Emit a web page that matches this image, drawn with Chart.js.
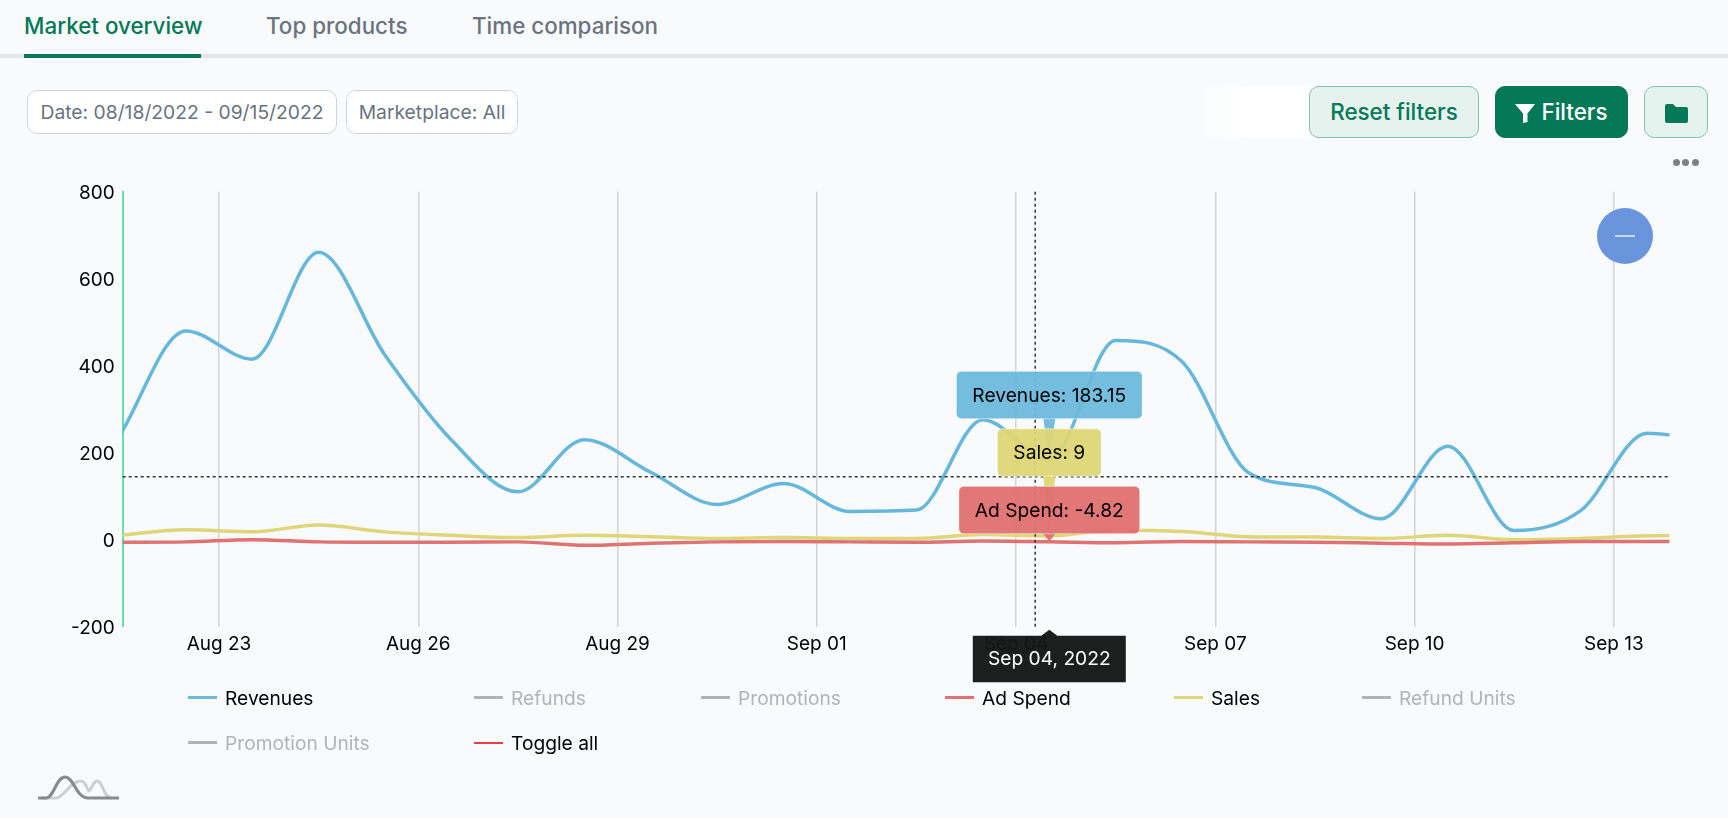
<!DOCTYPE html>
<html>
<head>
<meta charset="utf-8">
<title>Market overview</title>
<script src="https://cdn.jsdelivr.net/npm/chart.js@4"></script>
<style>
html, body { margin: 0; padding: 0; }
body { width: 1728px; height: 818px; background: #f9fafc; font-family: Inter, sans-serif; position: relative; overflow: hidden; }
.tab { position: absolute; top: 11px; font-size: 22.4px; font-weight: 500; color: #6b7280; line-height: 30px; white-space: nowrap; }
.tab.active { color: #047857; }
#tabLine { position: absolute; left: 0; top: 54px; width: 1728px; height: 4px; background: #e5e7eb; }
#tabActive { position: absolute; left: 24px; top: 54px; width: 177px; height: 4px; background: #047857; }
.chip { position: absolute; top: 90px; height: 42px; line-height: 42px; background: #fff; border: 1px solid #d1d5db; border-radius: 10px; font-size: 19.3px; color: #6b7280; text-align: center; white-space: nowrap; }
.btn { position: absolute; top: 86px; height: 50px; line-height: 50px; border-radius: 10px; border: 1px solid #84c3a9; background: #e6f2ed; color: #047857; font-size: 22.4px; font-weight: 500; text-align: center; white-space: nowrap; }
.btn.solid { background: #047857; border-color: #047857; color: #fff; }
.btn svg { vertical-align: -3px; }
#fade { position: absolute; left: 1194px; top: 86px; width: 115px; height: 52px; background: linear-gradient(to right, #f9fafc, #fff 50%); }
.dot { position: absolute; top: 159px; width: 7px; height: 7px; border-radius: 50%; background: #808080; }
#chartBox { position: absolute; left: 0; top: 170px; }
#zoomOut { position: absolute; left: 1597px; top: 208px; width: 56px; height: 56px; border-radius: 50%; background: #6a94dc; }
#zoomOut div { position: absolute; left: 18px; top: 27px; width: 20px; height: 2px; background: #c9d8f3; }
#legend { position: absolute; left: 188px; top: 675px; display: grid; grid-template-columns: 286px 227px 244px 229px 188px auto; grid-auto-rows: 45px; font-size: 19.2px; color: #000; }
.item { display: flex; align-items: center; white-space: nowrap; }
.item span { display: block; width: 29px; height: 3px; margin-right: 8px; }
.item.off { color: #b3b3b3; }
#navIcon { position: absolute; left: 38px; top: 775px; }
</style>
</head>
<body>
<div class="tab active" style="left:24px">Market overview</div>
<div class="tab" style="left:266px">Top products</div>
<div class="tab" style="left:472px">Time comparison</div>
<div id="tabLine"></div>
<div id="tabActive"></div>

<div class="chip" style="left:27px;width:308px">Date: 08/18/2022 - 09/15/2022</div>
<div class="chip" style="left:346px;width:170px">Marketplace: All</div>

<div id="fade"></div>
<div class="btn" style="left:1309px;width:168px">Reset filters</div>
<div class="btn solid" style="left:1495px;width:131px">
  <svg width="20" height="20" viewBox="0 0 20 20"><path d="M0 1h20L12.5 10.5V19L8 20V10.5z" fill="#fff"/></svg> Filters
</div>
<div class="btn" style="left:1644px;width:62px">
  <svg width="23" height="19" viewBox="0 0 23 19"><path d="M0 2a2 2 0 0 1 2-2h6l3 3h10a2 2 0 0 1 2 2v12a2 2 0 0 1-2 2H2a2 2 0 0 1-2-2z" fill="#047857"/></svg>
</div>
<div class="dot" style="left:1673px"></div>
<div class="dot" style="left:1682px"></div>
<div class="dot" style="left:1692px"></div>

<div id="chartBox"><canvas id="marketChart" width="1728" height="530"></canvas></div>
<div id="zoomOut"><div></div></div>
<div id="legend"></div>

<svg id="navIcon" width="82" height="26" viewBox="0 0 82 26">
  <path d="M4 23h14c8 0 14-17 25-17c5 0 6 9 8 10c3-2 4-10 8-10c6 0 6 17 15 17" fill="none" stroke="#cfcfcf" stroke-width="3"/>
  <path d="M0 23h8c8 0 10-21 19-21c9 0 11 21 23 21h31" fill="none" stroke="#8a8a8a" stroke-width="3"/>
</svg>

<script>
// ====== Datos ======
const days = [
    "2022-08-21", "2022-08-22", "2022-08-23", "2022-08-24", "2022-08-25",
    "2022-08-26", "2022-08-27", "2022-08-28", "2022-08-29", "2022-08-30",
    "2022-08-31", "2022-09-01", "2022-09-02", "2022-09-03", "2022-09-04",
    "2022-09-05", "2022-09-06", "2022-09-07", "2022-09-08", "2022-09-09",
    "2022-09-10", "2022-09-11", "2022-09-12", "2022-09-13", "2022-09-14"
];
const revenues = [238, 480, 415, 661, 424, 229, 110, 230, 155, 81, 129, 65, 68, 276, 183.15, 458, 409, 154, 120, 48, 215, 21, 67, 245, 225];
const sales = [10, 23, 18, 34, 18, 10, 5, 10, 7, 3, 5, 3, 3, 12, 9, 22, 19, 7, 6, 3, 10, 0, 3, 9, 10];
const adSpend = [-6, -5, 0, -5, -6, -6, -5, -13, -8, -5, -4, -5, -6, -3, -4.82, -7, -4, -5, -6, -8, -10, -7, -4, -4, -5];

const tickDays = ["2022-08-23", "2022-08-26", "2022-08-29", "2022-09-01", "2022-09-04", "2022-09-07", "2022-09-10", "2022-09-13"];
const tickLabels = ["Aug 23", "Aug 26", "Aug 29", "Sep 01", "Sep 04", "Sep 07", "Sep 10", "Sep 13"];

const legendNames = ["Revenues", "Refunds", "Promotions", "Ad Spend", "Sales", "Refund Units", "Promotion Units", "Toggle all"];
const legendColors = ["#6db9dd", "#b3b3b3", "#b3b3b3", "#e07272", "#dfd678", "#b3b3b3", "#b3b3b3", "#f03e3e"];
const legendActive = [true, false, false, true, true, false, false, true];

// el punto bajo el cursor
const hoverIndex = 14;
const hoverTitle = "Sep 04, 2022";
const cursorDay = "2022-09-04";
const cursorHours = 6.9;
const cursorValue = 145;

const toTime = (d, h) => Date.parse(d + "T00:00:00Z") + h * 3600000;

// ====== Leyenda ======
const legendBox = document.getElementById("legend");
legendNames.forEach((name, i) => {
    const item = document.createElement("div");
    item.className = legendActive[i] ? "item" : "item off";
    item.innerHTML = `<span style="background:${legendColors[i]}${i === 7 ? ";height:2px" : ""}"></span>${name}`;
    legendBox.appendChild(item);
});

// ====== Tooltips y cruz del cursor ======
function bubble(ctx, text, value, color, bottom, chart) {
    const cx = chart.scales.x.getPixelForValue(toTime(days[hoverIndex], 12));
    const tipY = chart.scales.y.getPixelForValue(value);
    const w = ctx.measureText(text).width + 32;
    const h = 47.5;
    const left = cx - w / 2;
    const top = bottom - h;
    ctx.beginPath();
    ctx.roundRect(left, top, w, h, 5);
    ctx.moveTo(cx - 6, bottom);
    ctx.lineTo(cx, tipY);
    ctx.lineTo(cx + 6, bottom);
    ctx.closePath();
    ctx.fillStyle = color;
    ctx.fill();
    ctx.strokeStyle = "rgba(255,255,255,0.5)";
    ctx.lineWidth = 1;
    ctx.beginPath();
    ctx.roundRect(left, top, w, h, 5);
    ctx.stroke();
    ctx.fillStyle = "#000";
    ctx.textAlign = "center";
    ctx.textBaseline = "middle";
    ctx.fillText(text, cx, top + h / 2 + 1);
    return top;
}

const hoverPlugin = {
    id: "hover",
    afterDraw(chart) {
        const ctx = chart.ctx;
        const area = chart.chartArea;
        const x = chart.scales.x;
        const y = chart.scales.y;

        ctx.save();
        ctx.setLineDash([3, 3]);
        ctx.strokeStyle = "#333";
        ctx.lineWidth = 1.5;
        const cursorX = x.getPixelForValue(toTime(cursorDay, cursorHours));
        const cursorY = y.getPixelForValue(cursorValue);
        ctx.beginPath();
        ctx.moveTo(cursorX, area.top);
        ctx.lineTo(cursorX, area.bottom);
        ctx.moveTo(area.left, cursorY);
        ctx.lineTo(area.right, cursorY);
        ctx.stroke();
        ctx.setLineDash([]);

        ctx.font = "19.2px Inter";
        const adTip = y.getPixelForValue(adSpend[hoverIndex]);
        const revenueItem = "Revenues: " + revenues[hoverIndex];
        const salesItem = "Sales: " + sales[hoverIndex];
        const adItem = "Ad Spend: " + adSpend[hoverIndex];
        const adHeight = 47.5 + 8;
        const salesBottom = adTip - adHeight - 10;
        const revenueBottom = salesBottom - 47.5 - 10;
        bubble(ctx, revenueItem, revenues[hoverIndex], "rgba(107,185,221,0.94)", revenueBottom, chart);
        bubble(ctx, salesItem, sales[hoverIndex], "rgba(222,214,116,0.94)", salesBottom, chart);
        bubble(ctx, adItem, adSpend[hoverIndex], "rgba(224,110,110,0.94)", adTip - 8, chart);

        // etiqueta de fecha sobre el eje
        const cx = x.getPixelForValue(toTime(days[hoverIndex], 12));
        const boxTop = area.bottom + 9;
        const w = 153;
        ctx.beginPath();
        ctx.rect(cx - w / 2, boxTop, w, 46.5);
        ctx.moveTo(cx - 8, boxTop);
        ctx.lineTo(cx, boxTop - 6);
        ctx.lineTo(cx + 8, boxTop);
        ctx.closePath();
        ctx.fillStyle = "rgba(20,22,21,0.96)";
        ctx.fill();
        ctx.fillStyle = "#fff";
        ctx.textAlign = "center";
        ctx.textBaseline = "middle";
        ctx.fillText(hoverTitle, cx, boxTop + 24);
        ctx.restore();
    }
};

// ====== Grafico ======
Chart.defaults.font.family = "Inter";
Chart.defaults.font.size = 19;
Chart.defaults.color = "#000";

const toPoints = values => values.map((v, i) => ({ x: toTime(days[i], 12), y: v }));

const lineStyle = { pointRadius: 0, borderWidth: 3.5, cubicInterpolationMode: "monotone", fill: false };

new Chart(document.getElementById("marketChart").getContext("2d"), {
    type: "line",
    data: {
        datasets: [
            { label: "Ad Spend", data: toPoints(adSpend), borderColor: "#e07272", ...lineStyle },
            { label: "Sales", data: toPoints(sales), borderColor: "#dfd678", ...lineStyle },
            { label: "Revenues", data: toPoints(revenues), borderColor: "#65b8dc", ...lineStyle }
        ]
    },
    options: {
        responsive: false,
        animation: false,
        layout: { padding: { top: 21.7, right: 58.5, left: 0, bottom: 0 } },
        plugins: { legend: { display: false }, tooltip: { enabled: false } },
        scales: {
            x: {
                type: "linear",
                min: toTime("2022-08-21", 13.2),
                max: toTime("2022-09-13", 20.1),
                afterBuildTicks: axis => { axis.ticks = tickDays.map(d => ({ value: toTime(d, 0) })); },
                afterFit: axis => { axis.height = 73.3; },
                border: { display: false },
                grid: { color: "#d4d4d8", lineWidth: 1.5, drawTicks: false },
                ticks: {
                    autoSkip: false,
                    maxRotation: 0,
                    padding: 6.5,
                    callback: (value, i) => tickLabels[i]
                }
            },
            y: {
                min: -200,
                max: 800,
                afterFit: axis => { axis.width = 122.7; },
                border: { color: "#5fe0b0", width: 2 },
                grid: { display: false, drawTicks: false },
                ticks: { stepSize: 200, padding: 8, labelOffset: 2 }
            }
        }
    },
    plugins: [hoverPlugin]
});
</script>
</body>
</html>
